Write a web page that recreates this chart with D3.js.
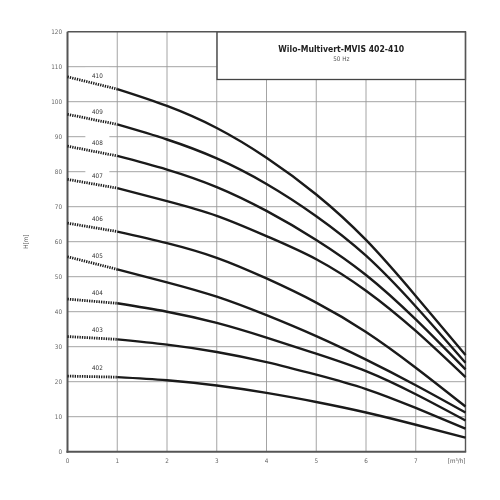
<!DOCTYPE html>
<html>
<head>
<meta charset="utf-8">
<script src="https://cdn.jsdelivr.net/npm/d3@7"></script>
<style>
  html, body { margin: 0; padding: 0; background: #fff; }
  svg { display: block; filter: grayscale(100%); }
</style>
</head>
<body>
<svg id="chart" width="500" height="500"></svg>
<script>
// ---- data ----
const flows = [0, 1, 2, 3, 4, 5, 6, 7, 8];
const pumpNames = ["410", "409", "408", "407", "406", "405", "404", "403", "402"];
const head410 = [107.1, 103.6, 98.8, 92.5, 84.0, 73.5, 60.5, 44.5, 27.6];
const head409 = [96.4, 93.5, 89.2, 83.8, 76.5, 67.3, 56.0, 41.5, 25.4];
const head408 = [87.3, 84.5, 80.6, 75.6, 68.8, 60.5, 50.5, 37.8, 23.5];
const head407 = [77.8, 75.3, 71.6, 67.4, 61.6, 55.0, 46.0, 34.5, 21.3];
const head406 = [65.3, 62.9, 59.6, 55.4, 49.5, 42.6, 34.2, 24.0, 12.9];
const head405 = [55.7, 52.1, 48.4, 44.3, 39.0, 33.0, 26.3, 19.0, 11.2];
const head404 = [43.6, 42.4, 40.0, 36.8, 32.6, 28.0, 23.0, 16.4, 8.9];
const head403 = [32.9, 32.1, 30.6, 28.5, 25.6, 22.0, 17.9, 12.5, 6.6];
const head402 = [21.6, 21.3, 20.4, 18.9, 16.8, 14.2, 11.2, 7.7, 4.0];
const heads = [head410, head409, head408, head407, head406, head405, head404, head403, head402];
const xTicks = [0, 1, 2, 3, 4, 5, 6, 7];
const yTicks = [0, 10, 20, 30, 40, 50, 60, 70, 80, 90, 100, 110, 120];
const titleText = "Wilo-Multivert-MVIS 402-410";
const subtitleText = "50 Hz";
const xUnit = "[m³/h]";
const yLabel = "H[m]";

// ---- layout ----
const svg = d3.select("#chart");
const pL = 67.5, pR = 465.5, pT = 31.7, pB = 451.7;
const font = "'DejaVu Sans Condensed', 'Liberation Sans Narrow', 'DejaVu Sans', sans-serif";

const x = d3.scaleLinear().domain([0, 8]).range([pL, pR]);
const y = d3.scaleLinear().domain([0, 120]).range([pB, pT]);

// grid
const grid = svg.append("g");
grid.selectAll("line.v").data(xTicks.filter(d => d > 0)).join("line")
  .attr("x1", d => x(d)).attr("x2", d => x(d))
  .attr("y1", pT).attr("y2", pB)
  .attr("stroke", "#9a9a9a").attr("stroke-width", 0.9);
grid.selectAll("line.h").data(yTicks.filter(d => d > 0 && d < 120)).join("line")
  .attr("x1", pL).attr("x2", pR)
  .attr("y1", d => y(d)).attr("y2", d => y(d))
  .attr("stroke", "#9a9a9a").attr("stroke-width", 0.9);

// title box (covers grid)
const boxLeft = x(3) + 0.3, boxBottom = 79.5;
svg.append("rect")
  .attr("x", boxLeft).attr("y", pT)
  .attr("width", pR - boxLeft).attr("height", boxBottom - pT)
  .attr("fill", "#fff").attr("stroke", "#444").attr("stroke-width", 1.3);
svg.append("text")
  .attr("x", (boxLeft + pR) / 2).attr("y", 52)
  .attr("text-anchor", "middle")
  .attr("font-family", font).attr("font-weight", "bold").attr("font-size", 8.6)
  .attr("fill", "#222").text(titleText);
svg.append("text")
  .attr("x", (boxLeft + pR) / 2).attr("y", 61)
  .attr("text-anchor", "middle")
  .attr("font-family", font).attr("font-size", 6.3)
  .attr("fill", "#555").text(subtitleText);

// frame
svg.append("line").attr("x1", pL).attr("x2", pR).attr("y1", pT).attr("y2", pT)
  .attr("stroke", "#555").attr("stroke-width", 1.4);
svg.append("line").attr("x1", pR).attr("x2", pR).attr("y1", pT).attr("y2", pB)
  .attr("stroke", "#555").attr("stroke-width", 1.4);
svg.append("line").attr("x1", pL).attr("x2", pL).attr("y1", pT).attr("y2", pB + 1)
  .attr("stroke", "#555").attr("stroke-width", 2);
svg.append("line").attr("x1", pL - 1).attr("x2", pR + 0.7).attr("y1", pB).attr("y2", pB)
  .attr("stroke", "#555").attr("stroke-width", 2);

// tick labels
svg.append("g").selectAll("text").data(yTicks).join("text")
  .attr("x", 62).attr("y", d => y(d) + 2.3)
  .attr("text-anchor", "end")
  .attr("font-family", font).attr("font-size", 6.3).attr("fill", "#666")
  .text(d => d);
svg.append("g").selectAll("text").data(xTicks).join("text")
  .attr("x", d => x(d)).attr("y", 463)
  .attr("text-anchor", "middle")
  .attr("font-family", font).attr("font-size", 6.3).attr("fill", "#666")
  .text(d => d);
svg.append("text").attr("x", pR).attr("y", 463)
  .attr("text-anchor", "end")
  .attr("font-family", font).attr("font-size", 6.3).attr("fill", "#555")
  .text(xUnit);
svg.append("text")
  .attr("transform", `translate(27.5, ${(pT + pB) / 2}) rotate(-90)`)
  .attr("text-anchor", "middle")
  .attr("font-family", font).attr("font-size", 6.3).attr("fill", "#555")
  .text(yLabel);

// curves
const pts = h => flows.map((f, i) => [f, h[i]]);
const solidLine = d3.line().x(d => x(d[0])).y(d => y(d[1])).curve(d3.curveNatural);
const dotLine = d3.line().x(d => x(d[0])).y(d => y(d[1]));

const curves = svg.append("g");
heads.forEach((h, k) => {
  const p = pts(h);
  const lx = x(0.6);
  const ly = y(h[0] + (h[1] - h[0]) * 0.6) - 9;
  curves.append("rect")
    .attr("x", lx - 12).attr("y", ly - 7.5).attr("width", 24).attr("height", 12.5)
    .attr("fill", "#fff");
  curves.append("text")
    .attr("x", lx).attr("y", ly + 2.3)
    .attr("text-anchor", "middle")
    .attr("font-family", font).attr("font-size", 6.3).attr("fill", "#333")
    .text(pumpNames[k]);
  curves.append("path")
    .attr("d", dotLine(p.slice(0, 2)))
    .attr("fill", "none").attr("stroke", "#1a1a1a")
    .attr("stroke-width", 2.8).attr("stroke-dasharray", "1.3,1.1");
  curves.append("path")
    .attr("d", solidLine(p.slice(1)))
    .attr("fill", "none").attr("stroke", "#1a1a1a")
    .attr("stroke-width", 2.4);
});
</script>
</body>
</html>
